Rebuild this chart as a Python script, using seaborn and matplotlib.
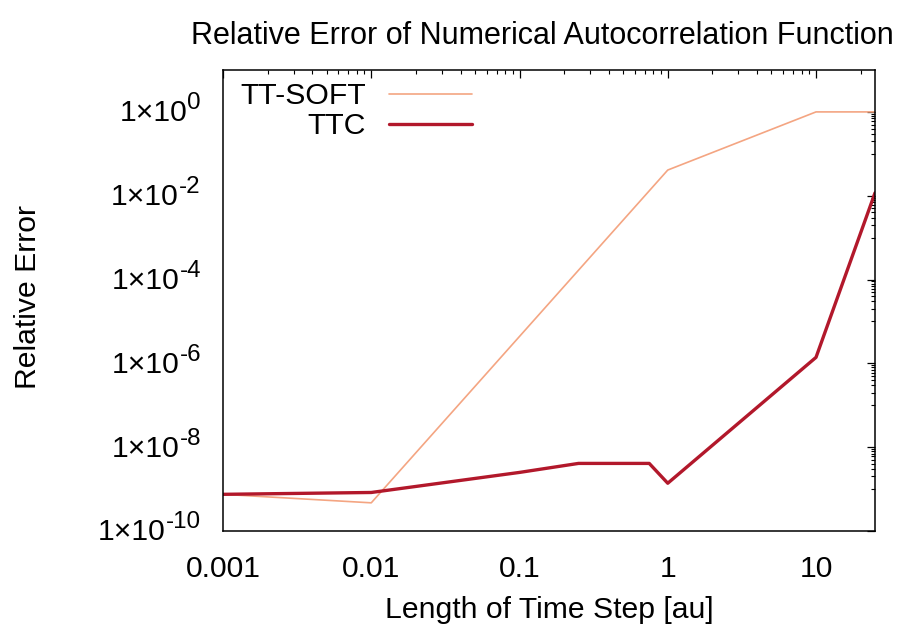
import numpy as np
import pandas as pd
import matplotlib
matplotlib.use("Agg")
import matplotlib.pyplot as plt
import matplotlib.transforms as mtransforms
import seaborn as sns
from matplotlib.ticker import FixedLocator, FixedFormatter, LogLocator, NullFormatter

# ---- data ----
series_names = ["TT-SOFT", "TTC"]
soft_step = [0.001, 0.01, 1.0, 10.0, 25.0]
soft_error = [7.5e-10, 4.7e-10, 4.1e-2, 1.0, 1.0]
ttc_step = [0.001, 0.01, 0.1, 0.25, 0.75, 1.0, 10.0, 25.0]
ttc_error = [7.5e-10, 8.3e-10, 2.5e-9, 4.1e-9, 4.1e-9, 1.38e-9, 1.39e-6, 1.17e-2]

x_ticks = [0.001, 0.01, 0.1, 1, 10]
x_tick_labels = ["0.001", "0.01", "0.1", "1", "10"]
y_exponents = [0, -2, -4, -6, -8, -10]
y_tick_base = "1×10"

title_text = "Relative Error of Numerical Autocorrelation Function"
x_label = "Length of Time Step [au]"
y_label = "Relative Error"

series_colors = ["#f4a582", "#b2182b"]
series_widths = [1.2, 2.4]

# ---- styling ----
sns.set_style("white")
plt.rcParams["font.family"] = ["Liberation Sans", "DejaVu Sans"]
for k in ["text.color", "axes.labelcolor", "xtick.color", "ytick.color"]:
    plt.rcParams[k] = "black"
FS = 21.7

df = pd.concat([
    pd.DataFrame({"step": soft_step, "error": soft_error, "series": series_names[0]}),
    pd.DataFrame({"step": ttc_step, "error": ttc_error, "series": series_names[1]}),
], ignore_index=True)

W, H = 910, 625
fig = plt.figure(figsize=(W / 100, H / 100), dpi=100)
ax = fig.add_axes([223 / W, 1 - 531 / H, (875 - 223) / W, (531 - 70) / H])

for name, color, lw in zip(series_names, series_colors, series_widths):
    sub = df[df["series"] == name]
    sns.lineplot(data=sub, x="step", y="error", ax=ax, color=color, linewidth=lw,
                 label=name, sort=False, estimator=None)

ax.set_xscale("log")
ax.set_yscale("log")
ax.set_xlim(0.001, 25)
ax.set_ylim(1e-10, 1e1)

ax.xaxis.set_major_locator(FixedLocator(x_ticks))
ax.xaxis.set_major_formatter(FixedFormatter(x_tick_labels))
ax.xaxis.set_minor_locator(LogLocator(base=10, subs=np.arange(2, 10), numticks=20))
ax.xaxis.set_minor_formatter(NullFormatter())

y_major = [10.0 ** e for e in y_exponents]
y_minor = [k * 10.0 ** (e - 1) for e in y_exponents for k in range(1, 10)]
ax.yaxis.set_major_locator(FixedLocator(y_major))
ax.yaxis.set_major_formatter(NullFormatter())
ax.yaxis.set_minor_locator(FixedLocator(y_minor))
ax.yaxis.set_minor_formatter(NullFormatter())

for s in ax.spines.values():
    s.set_color("black")
    s.set_linewidth(1.1)

ax.tick_params(which="both", direction="in", top=True, right=True, colors="black")
ax.tick_params(which="major", length=6, width=0.9)
ax.tick_params(which="minor", length=3, width=0.8)
ax.tick_params(axis="x", which="major", labelsize=FS, pad=17)

ax.set_xlabel(x_label, fontsize=FS)
ax.xaxis.set_label_coords(0.5, (531 - 596) / 461)
ax.set_ylabel(y_label, fontsize=FS)
ax.yaxis.set_label_coords((42 - 223) / 652, (531 - 296.5) / 461)
fig.text(542 / W, 1 - 44 / H, title_text, fontsize=22, ha="center", va="baseline")

ax.legend(loc="upper left", bbox_to_anchor=(0.008, 1.0), frameon=False,
          markerfirst=False, fontsize=FS, handlelength=2.75, handletextpad=0.75,
          labelspacing=0.07, borderaxespad=0.2, borderpad=0.2)

# y tick labels in gnuplot style: "1×10" followed by a raised exponent
ytrans = mtransforms.blended_transform_factory(ax.transAxes, ax.transData)
sup_right = -22  # px from the left spine
fig.canvas.draw()
renderer = fig.canvas.get_renderer()
ax_left_px = ax.transAxes.transform((0, 0))[0]
for e in y_exponents:
    val = 10.0 ** e
    sup = ax.text(0, val, f"{e}", fontsize=FS * 0.8, ha="right", va="baseline",
                  transform=mtransforms.offset_copy(ytrans, fig, x=sup_right, y=2.5, units="dots"),
                  clip_on=False)
    bb = sup.get_window_extent(renderer)
    dx = bb.x0 - ax_left_px - 0.5
    ax.text(0, val, y_tick_base, fontsize=FS, ha="right", va="baseline",
            transform=mtransforms.offset_copy(ytrans, fig, x=dx, y=-9.5, units="dots"),
            clip_on=False)

fig.savefig("out.png", dpi=100)
